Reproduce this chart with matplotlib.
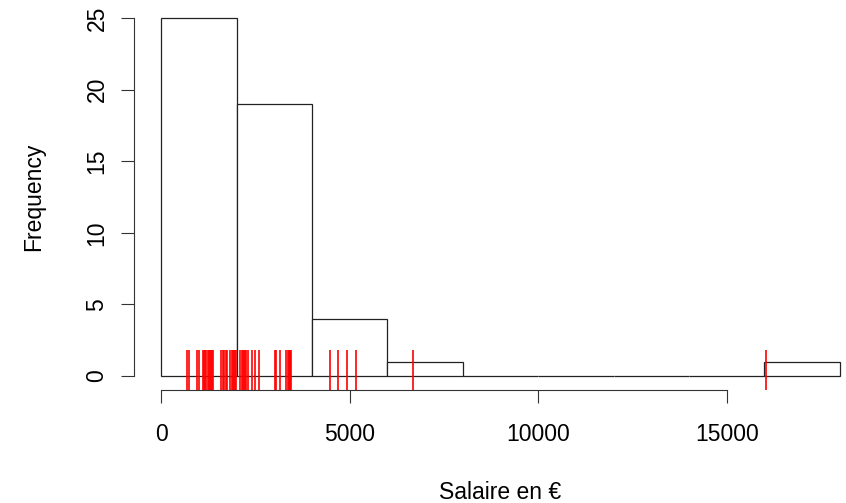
# Histogramme des salaires avec rug (style R)
import numpy as np
import matplotlib
matplotlib.use("Agg")
import matplotlib.pyplot as plt

salaires_bin1 = [690, 740, 950, 1000, 1110, 1140, 1170, 1200, 1230, 1260,
                 1290, 1320, 1350, 1380, 1590, 1630, 1670, 1710, 1750,
                 1830, 1870, 1900, 1930, 1960, 1990]
salaires_bin2 = [2090, 2140, 2180, 2220, 2260, 2310, 2490, 2600, 3020,
                 3150, 3370, 3390, 3410, 3430, 3450, 2400, 2200, 3050, 3300]
salaires_bin3 = [4480, 4690, 4930, 5170]
salaires_autres = [6680, 16030]
salaires = np.array(salaires_bin1 + salaires_bin2 + salaires_bin3 + salaires_autres)

breaks = np.arange(0, 18001, 2000)
xticks = [0, 5000, 10000, 15000]
yticks = [0, 5, 10, 15, 20, 25]


def main():
    plt.rcParams['font.family'] = ['Liberation Sans', 'DejaVu Sans']
    W, H = 846, 503
    fig = plt.figure(figsize=(W / 100, H / 100), dpi=100)
    # région du graphe en pixels (R: usr avec 4% de marge)
    left, right, top, bottom = 134, 867, 3.7, 390.3
    ax = fig.add_axes([left / W, (H - bottom) / H, (right - left) / W, (bottom - top) / H])

    ax.hist(salaires, bins=breaks, facecolor='white', edgecolor='#222222', linewidth=0.9)
    ax.vlines(salaires, 0, 40 / (bottom - top), transform=ax.get_xaxis_transform(),
              color='red', linewidth=1.4, alpha=0.85)

    ax.set_xlim(-720, 18720)
    ax.set_ylim(-1, 26)
    for s in ['top', 'right']:
        ax.spines[s].set_visible(False)
    ax.spines['left'].set_bounds(0, 25)
    ax.spines['bottom'].set_bounds(0, 15000)
    for s in ['left', 'bottom']:
        ax.spines[s].set_color('#333333')
        ax.spines[s].set_linewidth(0.8)

    fs = 16.5
    ax.set_xticks(xticks)
    ax.set_yticks(yticks)
    ax.set_yticklabels([str(v) for v in yticks], rotation=90, va='center')
    ax.tick_params(axis='both', direction='out', length=9.4, width=0.8,
                   color='#333333', labelsize=fs)
    ax.tick_params(axis='x', pad=14)
    ax.tick_params(axis='y', pad=9)

    ax.set_xlabel('Salaire en €', fontsize=fs, labelpad=25)
    ax.set_ylabel('Frequency', fontsize=fs, labelpad=29)

    fig.savefig('out.png', dpi=100)


if __name__ == '__main__':
    main()
